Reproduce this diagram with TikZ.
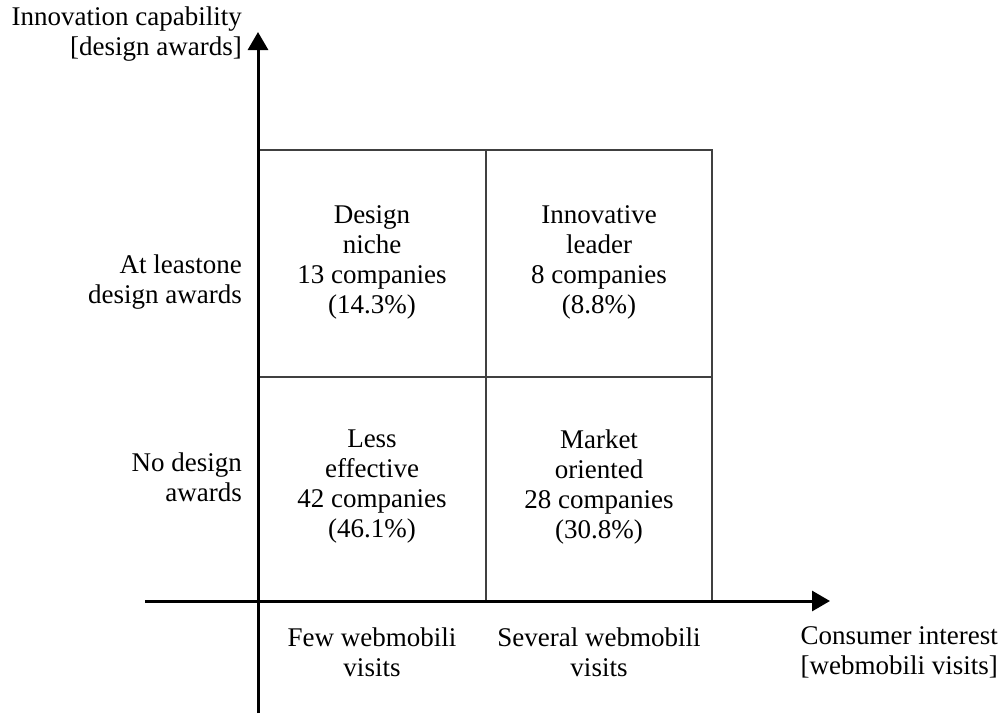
\documentclass[tikz,border=0pt]{standalone}
\usepackage{fontspec}
\setmainfont{Liberation Serif}
\usetikzlibrary{arrows.meta}
\begin{document}
\begin{tikzpicture}[x=1pt,y=-1pt,
  every node/.style={inner sep=0pt, font=\fontsize{27}{30}\selectfont},
  axis/.style={line width=3pt, -{Triangle[length=18pt,width=20pt]}},
  grid/.style={draw=black!75, line width=1.5pt},
  celltext/.style={align=center},
  rlabel/.style={align=right, anchor=east},
  clabel/.style={align=center}]
\useasboundingbox (0,0) rectangle (1001,713);
% grid
\coordinate (g00) at (258,150);
\coordinate (g11) at (712,601);
\draw[grid] (g00) rectangle (g11);
\draw[grid] (486,150) -- (486,601);
\draw[grid] (258,377) -- (712,377);
% axes
\coordinate (yb) at (258,713);
\coordinate (yt) at (258,32);
\coordinate (xl) at (145,601);
\coordinate (xr) at (830,601);
\draw[axis] (yb) -- (yt);
\draw[axis] (xl) -- (xr);
% cell texts
\node[celltext] (dn) at (372,262) {Design\\niche\\13 companies\\(14.3\%)};
\node[celltext] (il) at (599,262) {Innovative\\leader\\8 companies\\(8.8\%)};
\node[celltext] (le) at (372,487) {Less\\effective\\42 companies\\(46.1\%)};
\node[celltext] (mo) at (599,487) {Market\\oriented\\28 companies\\(30.8\%)};
% y labels
\node[rlabel] (ya) at (242,34) {Innovation capability\\{[design awards]}};
\node[rlabel] (at) at (242,282) {At leastone\\design awards};
\node[rlabel] (no) at (242,477) {No design\\awards};
% x labels
\node[clabel] (fw) at (372,652) {Few webmobili\\visits};
\node[clabel] (sw) at (599,652) {Several webmobili\\visits};
\node[rlabel] (ci) at (998,652) {Consumer interest\\{[webmobili visits]}};
\end{tikzpicture}
\end{document}
